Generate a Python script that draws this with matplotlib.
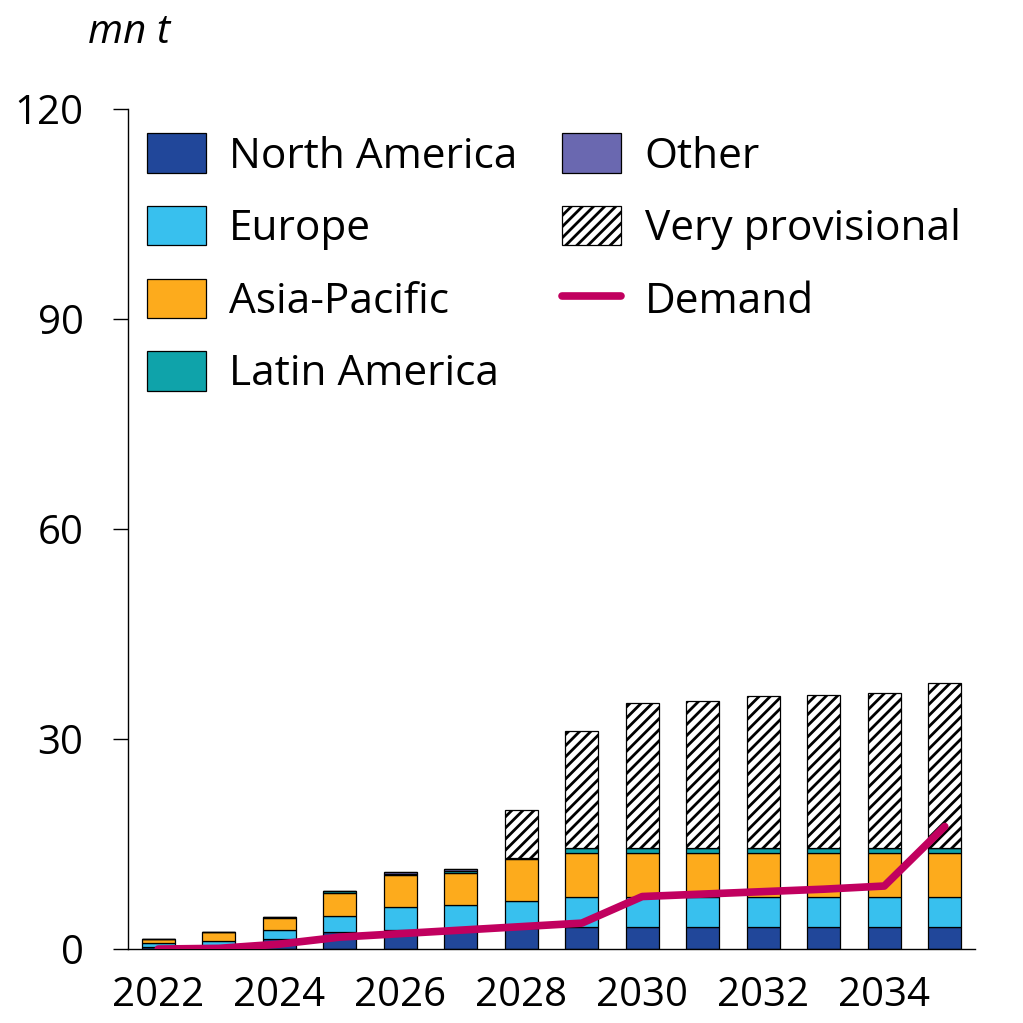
import matplotlib.pyplot as plt
import numpy as np

plt.rcParams["font.family"] = ["Open Sans", "DejaVu Sans"]
plt.rcParams["hatch.linewidth"] = 2.0

# data (mn t)
years = list(range(2022, 2036))
north_america = [0.3, 0.5, 1.5, 2.4, 2.7, 2.9, 3.05, 3.1, 3.1, 3.1, 3.1, 3.1, 3.1, 3.1]
europe = [0.5, 0.7, 1.2, 2.3, 3.35, 3.4, 3.8, 4.4, 4.4, 4.4, 4.4, 4.4, 4.4, 4.4]
asia_pacific = [0.65, 1.3, 1.8, 3.25, 4.5, 4.6, 6.0, 6.2, 6.2, 6.2, 6.2, 6.2, 6.2, 6.2]
latin_america = [0.0, 0.0, 0.05, 0.3, 0.15, 0.3, 0.1, 0.8, 0.8, 0.8, 0.8, 0.8, 0.8, 0.8]
other = [0.0, 0.0, 0.0, 0.0, 0.28, 0.3, 0.0, 0.0, 0.0, 0.0, 0.0, 0.0, 0.0, 0.0]
very_provisional = [0.0, 0.0, 0.0, 0.0, 0.0, 0.0, 6.9, 16.6, 20.6, 21.0, 21.7, 21.8, 22.1, 23.5]
demand = [0.0, 0.1, 0.7, 1.7, 2.2, 2.7, 3.2, 3.7, 7.5, 7.85, 8.2, 8.55, 9.0, 17.5]

series = [
    ("North America", north_america, "#21479a"),
    ("Europe", europe, "#38c0ee"),
    ("Asia-Pacific", asia_pacific, "#fdab1c"),
    ("Latin America", latin_america, "#0fa3aa"),
    ("Other", other, "#6a68b0"),
]

fig = plt.figure(figsize=(10.23, 10.23), dpi=100)
ax = fig.add_axes([0.1251, 0.0723, 0.828, 0.8212])

x = np.array(years)
bottom = np.zeros(len(years))
handles = []
for name, vals, col in series:
    h = ax.bar(x, vals, width=0.55, bottom=bottom, color=col,
               edgecolor="black", linewidth=0.9, label=name, zorder=2)
    handles.append(h)
    bottom += np.array(vals)

h_vp = ax.bar(x, very_provisional, width=0.55, bottom=bottom, color="white",
              edgecolor="black", linewidth=0.9, hatch="///", label="Very provisional",
              zorder=2)
handles.append(h_vp)

(h_dem,) = ax.plot(x, demand, color="#c1005f", linewidth=5.5, label="Demand",
                   solid_capstyle="round", solid_joinstyle="round", zorder=5)
handles.append(h_dem)

ax.set_xlim(2021.5, 2035.5)
ax.set_ylim(0, 120)
ax.set_yticks([0, 30, 60, 90, 120])
ax.set_xticks(range(2022, 2035, 2))
ax.tick_params(axis="y", length=11, width=1, pad=21, labelsize=29)
ax.tick_params(axis="x", length=0, pad=19, labelsize=29)
ax.spines["top"].set_visible(False)
ax.spines["right"].set_visible(False)
for s in ("left", "bottom"):
    ax.spines[s].set_linewidth(1)

# legend: two columns, top-left
ax.legend(handles, [h.get_label() for h in handles],
          loc="upper left", bbox_to_anchor=(0.022, 0.971), ncol=2,
          frameon=False, fontsize=30.5, handlelength=1.4, handleheight=1.06,
          handletextpad=0.55, labelspacing=0.67, columnspacing=1.05,
          borderaxespad=0, borderpad=0)

fig.text(88 / 1023, 1 - 43 / 1023, "mn t", fontsize=29, style="italic",
         ha="left", va="baseline")

fig.savefig("out.png", dpi=100)
